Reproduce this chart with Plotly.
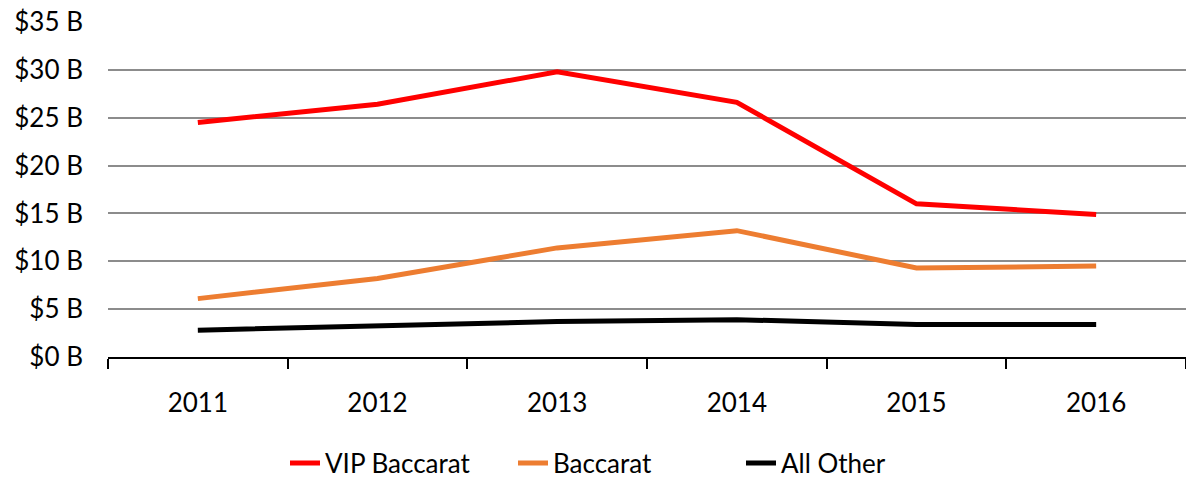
import plotly.graph_objects as go

years = ["2011", "2012", "2013", "2014", "2015", "2016"]
vip_baccarat = [24.5, 26.4, 29.8, 26.6, 16.0, 14.9]
baccarat = [6.1, 8.2, 11.4, 13.2, 9.3, 9.5]
all_other = [2.8, 3.3, 3.7, 3.9, 3.4, 3.4]
y_ticks = [0, 5, 10, 15, 20, 25, 30, 35]
y_labels = ["$%d B" % v for v in y_ticks]

FONT = "Lato"

fig = go.Figure()
for name, vals, color in [("VIP Baccarat", vip_baccarat, "#FF0000"),
                          ("Baccarat", baccarat, "#ED7D31"),
                          ("All Other", all_other, "#000000")]:
    fig.add_trace(go.Scatter(x=years, y=vals, name=name, mode="lines",
                             line=dict(color=color, width=5)))

fig.update_layout(
    width=1186, height=478,
    margin=dict(l=108, r=0, t=22, b=121, autoexpand=False),
    paper_bgcolor="white", plot_bgcolor="white",
    font=dict(family=FONT, size=26, color="black"),
    showlegend=True,
    legend=dict(orientation="h", x=285 / 1186, xanchor="left", xref="container",
                y=15 / 478, yanchor="middle", yref="container",
                font=dict(size=26), entrywidth=183, entrywidthmode="pixels",
                tracegroupgap=0),
    xaxis=dict(type="category", range=[-0.5, 5.5], tickson="boundaries",
               ticks="outside", ticklen=10, tickwidth=1.5, tickcolor="black",
               showline=True, linecolor="black", linewidth=2,
               showgrid=False, ticklabelstandoff=22, zeroline=False),
    yaxis=dict(range=[0, 35], tickvals=y_ticks, ticktext=y_labels,
               showgrid=True, gridcolor="#8c8c8c", gridwidth=2,
               showline=False, zeroline=False, ticks="",
               ticklabelstandoff=24),
)

fig.write_html("out.html")
